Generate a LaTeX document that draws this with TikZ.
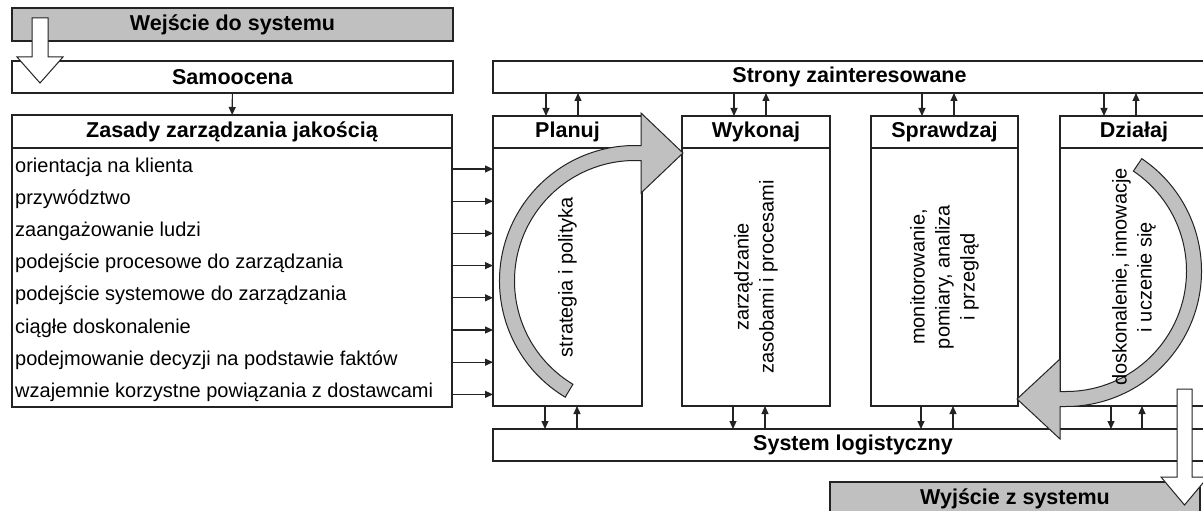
\documentclass[tikz,border=0pt]{standalone}
\usepackage{fontspec}
\setmainfont{Liberation Sans}
\usetikzlibrary{positioning,calc,arrows.meta}
\definecolor{boxgray}{RGB}{192,192,192}
\definecolor{linegray}{RGB}{35,35,35}
\newcommand{\hdfont}{\fontsize{21.5}{24}\bfseries\selectfont}
\newcommand{\txtfont}{\fontsize{20}{25}\selectfont}
\tikzset{
	>={Triangle[length=8pt,width=7pt]},
	x=1pt, y=-1pt,
	box/.style={draw=linegray, line width=1.3pt, fill=white, anchor=north west,
		inner sep=0pt, outer sep=0pt, font=\hdfont},
	graybox/.style={box, fill=boxgray},
	item/.style={anchor=west, inner sep=0pt, font=\txtfont, text height=13pt, text depth=7pt},
	vtext/.style={rotate=90, align=center, inner sep=0pt, font=\txtfont},
	link/.style={->, line width=1.1pt, draw=linegray},
	bigarrow/.style={fill=boxgray, draw=linegray, line width=1pt},
	blockarrow/.style={fill=white, draw=linegray, line width=1pt},
}

\begin{document}
\begin{tikzpicture}
	\useasboundingbox (0,0) rectangle (1203,511);
	\clip (0,0) rectangle (1203,511);

	% left column
	\node[graybox, minimum width=441pt, minimum height=33pt] (wejscie) at (12,8) {Wejście do systemu};
	\node[box, minimum width=441pt, minimum height=32pt] (samoocena) at (12,61) {Samoocena};
	\node[box, minimum width=440pt, minimum height=33pt] (zasady) at (12,115) {Zasady zarządzania jakością};
	\node[box, minimum width=440pt, minimum height=259pt] (zasadyB) at (12,148) {};

	% stakeholders and logistics
	\node[box, minimum width=713pt, minimum height=32pt] (strony) at (493,61) {Strony zainteresowane};
	\node[box, minimum width=720pt, minimum height=32pt] (logistyka) at (493,429) {System logistyczny};
	\node[graybox, minimum width=370pt, minimum height=33pt] (wyjscie) at (830,482) {Wyjście z systemu};

	% PDCA boxes
	\node[box, minimum width=149pt, minimum height=32pt] (planuj) at (493,116) {Planuj};
	\node[box, minimum width=149pt, minimum height=258pt] (planujB) at (493,148) {};
	\node[box, minimum width=148pt, minimum height=32pt] (wykonaj) at (682,116) {Wykonaj};
	\node[box, minimum width=148pt, minimum height=258pt] (wykonajB) at (682,148) {};
	\node[box, minimum width=147pt, minimum height=32pt] (sprawdzaj) at (871,116) {Sprawdzaj};
	\node[box, minimum width=147pt, minimum height=258pt] (sprawdzajB) at (871,148) {};
	\node[box, minimum width=148pt, minimum height=32pt] (dzialaj) at (1060,116) {Działaj};
	\node[box, minimum width=148pt, minimum height=258pt] (dzialajB) at (1060,148) {};

	\draw[link] (samoocena) -- (zasady);

	% links to stakeholders and logistics
	\foreach \b/\d/\u/\e/\f in {planuj/53/85/52/84, wykonaj/52/84/51/83, sprawdzaj/51/83/50/82, dzialaj/44/76/51/82} {
		\coordinate (td\b) at ($(\b.north west)+(\d,0)$);
		\coordinate (tu\b) at ($(\b.north west)+(\u,0)$);
		\coordinate (bd\b) at ($(\b B.south west)+(\e,0)$);
		\coordinate (bu\b) at ($(\b B.south west)+(\f,0)$);
		\draw[link] (strony.south -| td\b) -- (td\b);
		\draw[link] (tu\b) -- (strony.south -| tu\b);
		\draw[link] (bd\b) -- (logistyka.north -| bd\b);
		\draw[link] (logistyka.north -| bu\b) -- (bu\b);
	}

	% principles
	\foreach \t [count=\i] in {orientacja na klienta, przywództwo, zaangażowanie ludzi,
		podejście procesowe do zarządzania, podejście systemowe do zarządzania,
		ciągłe doskonalenie, podejmowanie decyzji na podstawie faktów,
		wzajemnie korzystne powiązania z dostawcami} {
		\node[item] (item\i) at (15, {169+32.2*(\i-1)}) {\t};
		\draw[link] (item\i -| zasadyB.east) -- (item\i -| planujB.west);
	}

	% cycle arrows
	\filldraw[bigarrow] (635,281) ++(121:135.5) arc[start angle=121, end angle=270, radius=135.5]
		-- (641,145.5) -- (641,113) -- (683,153) -- (641,193) -- (641,160.5) -- (635,160.5)
		arc[start angle=270, end angle=121, radius=120.5] -- cycle;
	\filldraw[bigarrow] (1066,271) ++(-56:135.5) arc[start angle=-56, end angle=90, radius=135.5]
		-- (1060,406.5) -- (1060,439) -- (1017,399) -- (1060,359) -- (1060,391.5) -- (1066,391.5)
		arc[start angle=90, end angle=-56, radius=120.5] -- cycle;

	% texts in the boxes
	\node[vtext] (tplanuj) at (planujB) {strategia i polityka};
	\node[vtext] (twykonaj) at (wykonajB) {zarządzanie\\zasobami i procesami};
	\node[vtext] (tsprawdzaj) at (sprawdzajB) {monitorowanie,\\pomiary, analiza\\i przegląd};
	\node[vtext] (tdzialaj) at (dzialajB) {doskonalenie, innowacje\\i uczenie się};

	% input and output
	\filldraw[blockarrow] (32,18) -- (48,18) -- (48,57) -- (63,57) -- (40,83) -- (17,57) -- (32,57) -- cycle;
	\filldraw[blockarrow] (1177,389) -- (1192,389) -- (1192,477) -- (1208,477) -- (1184.5,505)
		-- (1161,477) -- (1177,477) -- cycle;
\end{tikzpicture}
\end{document}
